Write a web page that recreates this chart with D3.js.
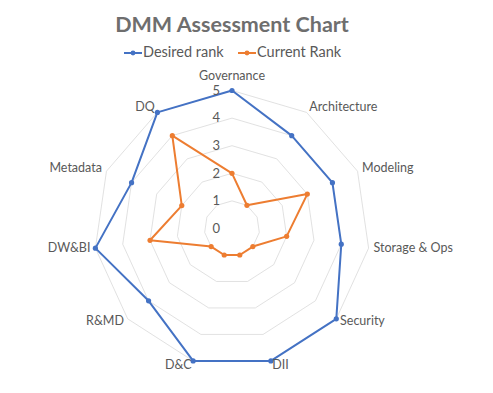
<!DOCTYPE html>
<html><head><meta charset="utf-8">
<script src="https://cdn.jsdelivr.net/npm/d3@7"></script>
<style>
html,body{margin:0;padding:0;background:#fff;}
svg{display:block;}
</style></head>
<body>
<svg id="chart" width="493" height="393"></svg>
<script>
const categories = ["Governance","Architecture","Modeling","Storage & Ops","Security","DII","D&C","R&MD","DW&BI","Metadata","DQ"];
const desiredRank = [5,4,4,4,5,5,5,4,5,4,5];
const currentRank = [2,1,3,2,1,1,1,1,3,2,4];
const tickValues = [0,1,2,3,4,5];
const seriesNames = ["Desired rank","Current Rank"];

const W = 493, H = 393;
const cx = 232, cy = 228.5, R = 138;
const svg = d3.select("#chart");
const font = "Lato, 'Open Sans', sans-serif";
const textColor = "#595959";

const r = d3.scaleLinear().domain([0,5]).range([0,R]);
const ang = d3.scaleLinear().domain([0,categories.length]).range([0,2*Math.PI]);
const pt = (i,v) => [cx + r(v)*Math.sin(ang(i)), cy - r(v)*Math.cos(ang(i))];

// grid polygons
const g = svg.append("g");
tickValues.filter(t=>t>0).forEach(t=>{
  g.append("path")
    .attr("d", d3.line()(categories.map((c,i)=>pt(i,t))) + "Z")
    .attr("fill","none").attr("stroke","#d9d9d9").attr("stroke-width",0.8);
});

// series
const series = [
  {name: seriesNames[0], values: desiredRank, color: "#4472C4"},
  {name: seriesNames[1], values: currentRank, color: "#ED7D31"}
];
series.forEach(s=>{
  const pts = s.values.map((v,i)=>pt(i,v));
  svg.append("path").attr("d", d3.line()(pts)+"Z")
    .attr("fill","none").attr("stroke",s.color).attr("stroke-width",2).attr("stroke-linejoin","round");
  svg.append("g").selectAll("circle").data(pts).join("circle")
    .attr("cx",d=>d[0]).attr("cy",d=>d[1]).attr("r",2.6).attr("fill",s.color);
});

// tick labels
svg.append("g").selectAll("text").data(tickValues).join("text")
  .attr("x", cx-12).attr("y", d=>cy - r(d)+1)
  .attr("text-anchor","end").attr("dominant-baseline","middle")
  .attr("font-family",font).attr("font-size",13).attr("fill",textColor)
  .text(d=>d);

// category labels
svg.append("g").selectAll("text").data(categories).join("text")
  .each(function(c,i){
    const a = ang(i), s = Math.sin(a), co = Math.cos(a);
    let rr = R+5;
    if (co > 0.95) rr = R+14;
    const x = cx + rr*s, y = cy - rr*co;
    d3.select(this).attr("x",x).attr("y",y)
      .attr("text-anchor", Math.abs(s)<0.1 ? "middle" : (s>0 ? "start":"end"))
      .attr("dominant-baseline","middle");
  })
  .attr("font-family",font).attr("font-size",12.5).attr("fill",textColor)
  .text(d=>d);

// title
svg.append("text").attr("x",232).attr("y",26).attr("text-anchor","middle")
  .attr("dominant-baseline","middle")
  .attr("font-family",font).attr("font-weight","bold").attr("font-size",21.5)
  .attr("fill","#6e6e6e").text("DMM Assessment Chart");

// legend
const legendX = [124, 238];
const lg = svg.append("g");
series.forEach((s,k)=>{
  const x0 = legendX[k], y0 = 53;
  lg.append("line").attr("x1",x0).attr("x2",x0+18).attr("y1",y0).attr("y2",y0)
    .attr("stroke",s.color).attr("stroke-width",2);
  lg.append("circle").attr("cx",x0+9).attr("cy",y0).attr("r",2.4).attr("fill",s.color);
  lg.append("text").attr("x",x0+19).attr("y",y0).attr("dominant-baseline","middle")
    .attr("font-family",font).attr("font-size",14.5).attr("fill",textColor).text(s.name);
});
</script>
</body></html>
